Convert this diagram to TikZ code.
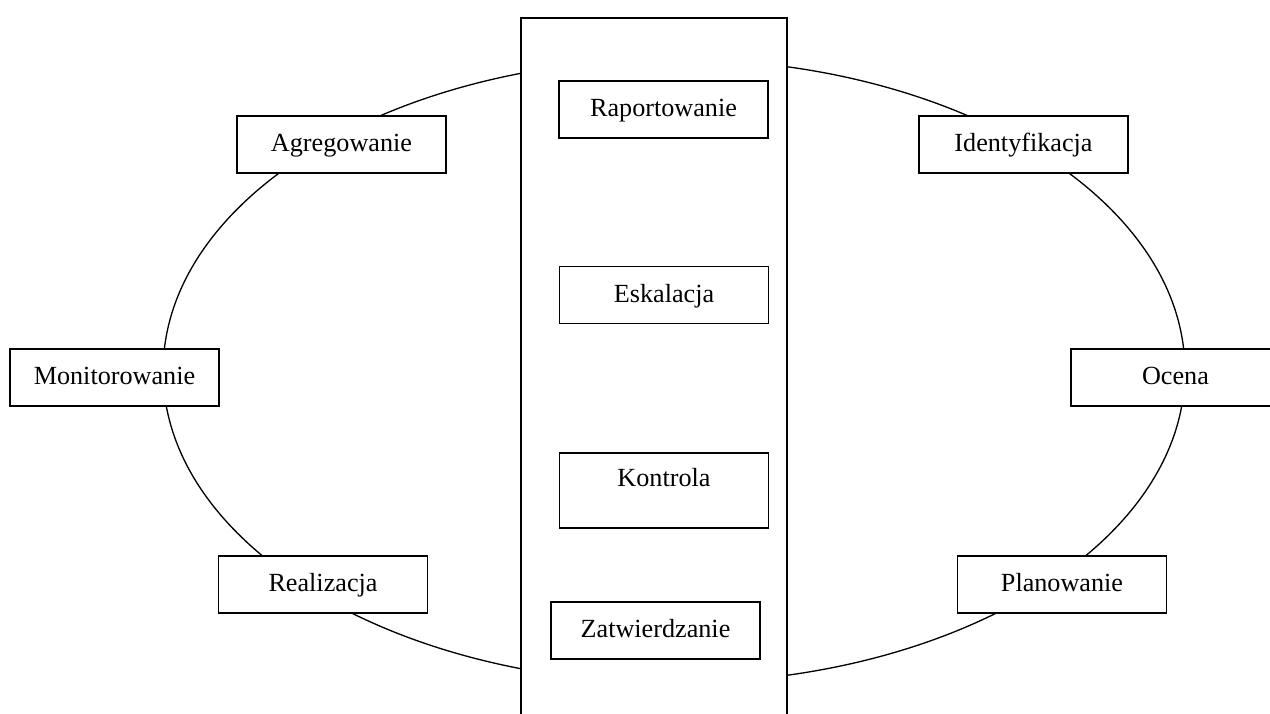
\documentclass[tikz,border=0pt]{standalone}
\usepackage{fontspec}
\setmainfont{Liberation Serif}
\usepackage{tikz}

\tikzset{
  napis/.style={font=\fontsize{14.9}{18}\selectfont,text height=11.5pt,text depth=3pt},
  etap/.style={napis,draw,fill=white,line width=1pt,minimum width=4.18cm,minimum height=1.14cm,
    inner sep=0pt},
  pasek/.style={draw,fill=white,line width=1pt,minimum width=5.32cm,minimum height=14.3cm,anchor=north}
}

\begin{document}
\begin{tikzpicture}[x=0.02cm,y=-0.02cm,line cap=round]
\useasboundingbox (0,0) rectangle (1270,713);
\clip (0,0) rectangle (1270,713);
% cykl
\draw[line width=0.75pt] (674,371) ellipse [x radius=10.22cm, y radius=6.24cm];
% srodkowy pas
\node[pasek] (pas) at (654,17) {};
\node[etap] (rap) at (663.5,109.5) {Raportowanie};
\node[etap] (esk) at (664,295) {Eskalacja};
\node[etap,minimum height=1.5cm] (kon) at (664,490.5) {};
\node[napis] (kontxt) at (664,479.5) {Kontrola};
\node[etap] (zat) at (655.5,630.5) {Zatwierdzanie};
% etapy na elipsie
\node[etap] (agr) at (341.5,144.5) {Agregowanie};
\node[etap] (ide) at (1023.5,144.5) {Identyfikacja};
\node[etap] (mon) at (114.5,377.5) {Monitorowanie};
\node[etap] (oce) at (1175.5,377.5) {Ocena};
\node[etap] (rea) at (323,584.5) {Realizacja};
\node[etap] (pla) at (1062,584.5) {Planowanie};
\end{tikzpicture}
\end{document}
